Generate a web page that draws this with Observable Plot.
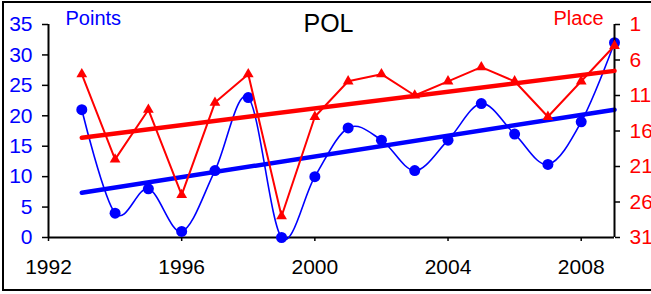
<!DOCTYPE html>
<html><head><meta charset="utf-8">
<script src="https://cdn.jsdelivr.net/npm/d3@7"></script>
<script src="https://cdn.jsdelivr.net/npm/@observablehq/plot@0.6"></script>
<style>
html,body{margin:0;padding:0;background:#fff;overflow:hidden;}
#wrap{position:relative;width:651px;height:294px;overflow:hidden;}
#frame{position:absolute;left:2px;top:1px;width:700px;height:286px;border:2px solid #000;}
#wrap svg{position:absolute;left:0;top:0;}
</style></head>
<body>
<div id="wrap"><div id="frame"></div></div>
<script>
const years = [1993,1994,1995,1996,1997,1998,1999,2000,2001,2002,2003,2004,2005,2006,2007,2008,2009];
const points = [21,4,8,1,11,23,0,10,18,16,11,16,22,17,12,19,32];
const places = [8,20,13,25,12,8,28,14,9,8,11,9,7,9,14,9,4];
const xTicks = [1992,1996,2000,2004,2008];
const pointTicks = [0,5,10,15,20,25,30,35];
const placeTicks = [1,6,11,16,21,26,31];
const title = "POL";
const leftLabel = "Points";
const rightLabel = "Place";

const data = years.map((y,i)=>({year:y, points:points[i], place:places[i]}));

const common = {
  width:651, height:294, marginLeft:48, marginRight:37, marginTop:24, marginBottom:57,
  style:{background:"transparent", fontFamily:"'Liberation Sans', Arial, sans-serif", fontSize:"21px", overflow:"visible"},
};

const p1 = Plot.plot({
  ...common,
  x:{domain:[1992,2009], axis:null},
  y:{domain:[0,35], axis:null},
  marks:[
    Plot.ruleX([1992], {y1:0, y2:35, stroke:"#000", strokeWidth:2}),
    Plot.ruleY([0], {x1:1992, x2:2009, stroke:"#000", strokeWidth:2}),
    Plot.axisY({ticks:pointTicks, anchor:"left", tickSize:6, color:"#000", strokeWidth:1.5, tickFormat:()=>"", label:null}),
    Plot.axisY({ticks:pointTicks, anchor:"left", tickSize:0, tickPadding:16, color:"#0000ff", fontSize:21, label:null}),
    Plot.axisX({ticks:xTicks, anchor:"bottom", tickSize:4, color:"#000", strokeWidth:1.5, fontSize:21, tickPadding:18, tickFormat:d=>String(d), label:null}),
    Plot.line(data, {x:"year", y:"points", stroke:"#0000ff", strokeWidth:1.6, curve:"cardinal"}),
    Plot.dot(data, {x:"year", y:"points", r:5.5, fill:"#0000ff", stroke:null}),
    Plot.linearRegressionY(data, {x:"year", y:"points", stroke:"#0000ff", strokeWidth:4.5, ci:0}),
    Plot.text([title], {frameAnchor:"top", text:d=>d, dx:-3, dy:-10, lineAnchor:"top", fontSize:25, fill:"#000"}),
    Plot.text([leftLabel], {frameAnchor:"top-left", text:d=>d, dx:17, dy:-14, lineAnchor:"top", textAnchor:"start", fontSize:20, fill:"#0000ff"})
  ]
});

const p2 = Plot.plot({
  ...common,
  x:{domain:[1992,2009], axis:null},
  y:{domain:[31,1], axis:null},
  marks:[
    Plot.ruleX([2009], {y1:31, y2:1, stroke:"#000", strokeWidth:2}),
    Plot.axisY({ticks:placeTicks, anchor:"right", tickSize:5, color:"#000", strokeWidth:1.5, tickFormat:()=>"", label:null}),
    Plot.axisY({ticks:placeTicks, anchor:"right", tickSize:0, tickPadding:15, color:"#ff0000", fontSize:21, label:null}),
    Plot.line(data, {x:"year", y:"place", stroke:"#ff0000", strokeWidth:2}),
    Plot.dot(data, {x:"year", y:"place", symbol:"triangle", r:4, fill:"#ff0000", stroke:null}),
    Plot.linearRegressionY(data, {x:"year", y:"place", stroke:"#ff0000", strokeWidth:4.5, ci:0}),
    Plot.text([rightLabel], {frameAnchor:"top-right", text:d=>d, dx:-11, dy:-14, lineAnchor:"top", textAnchor:"end", fontSize:20, fill:"#ff0000"})
  ]
});

const wrap = document.getElementById("wrap");
wrap.appendChild(p1);
wrap.appendChild(p2);
</script>
</body></html>
